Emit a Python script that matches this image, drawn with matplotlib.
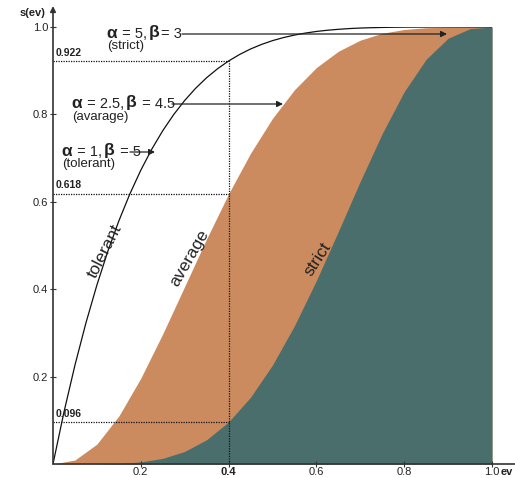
import matplotlib
matplotlib.use("Agg")
import matplotlib.pyplot as plt
from matplotlib.offsetbox import TextArea, HPacker, AnnotationBbox
from matplotlib.patches import FancyArrowPatch

plt.rcParams['font.family'] = ['Liberation Sans', 'DejaVu Sans']

# ---- data ----
ev = [0.00, 0.05, 0.10, 0.15, 0.20, 0.25, 0.30, 0.35, 0.40, 0.45, 0.50,
      0.55, 0.60, 0.65, 0.70, 0.75, 0.80, 0.85, 0.90, 0.95, 1.00]
average = [0.0, 0.0092, 0.0455, 0.1098, 0.1964, 0.2979, 0.4065, 0.5153, 0.6183,
           0.7112, 0.7910, 0.8564, 0.9073, 0.9445, 0.9699, 0.9857, 0.9943,
           0.9983, 0.9997, 1.0, 1.0]
strict = [0.0, 0.0000, 0.0002, 0.0012, 0.0047, 0.0129, 0.0288, 0.0556, 0.0963,
          0.1529, 0.2266, 0.3164, 0.4199, 0.5323, 0.6471, 0.7564, 0.8520,
          0.9262, 0.9743, 0.9962, 1.0]
ev_tol = [0.000, 0.025, 0.050, 0.075, 0.100, 0.125, 0.150, 0.175, 0.200, 0.225,
          0.250, 0.275, 0.300, 0.325, 0.350, 0.375, 0.400, 0.425, 0.450, 0.475,
          0.500, 0.525, 0.550, 0.575, 0.600, 0.625, 0.650, 0.675, 0.700, 0.725,
          0.750, 0.775, 0.800, 0.825, 0.850, 0.875, 0.900, 0.950, 1.000]
tolerant = [0.0, 0.1189, 0.2262, 0.3228, 0.4095, 0.4871, 0.5563, 0.6178, 0.6723,
            0.7204, 0.7627, 0.7997, 0.8319, 0.8599, 0.8840, 0.9046, 0.9222,
            0.9371, 0.9497, 0.9601, 0.9688, 0.9758, 0.9815, 0.9861, 0.9898,
            0.9926, 0.9947, 0.9964, 0.9976, 0.9984, 0.9990, 0.9994, 0.9997,
            0.9998, 0.9999, 1.0, 1.0, 1.0, 1.0]
xticks = [0.2, 0.4, 0.6, 0.8, 1.0]
xticklabels = ["0.2", "0.4", "0.6", "0.8", "1.0"]
yticks = [0.2, 0.4, 0.6, 0.8, 1.0]
yticklabels = ["0.2", "0.4", "0.6", "0.8", "1.0"]
ev_mark = 0.4
marks = [0.922, 0.618, 0.096]
mark_labels = ["0.922", "0.618", "0.096"]

ORANGE = "#CB8B5E"
TEAL = "#4A6E6C"
DARK = "#222222"

W, H = 515, 478
fig = plt.figure(figsize=(W / 100, H / 100), dpi=100)
ax = fig.add_axes([53 / W, 14 / H, 439 / W, 437 / H])
ax.set_xlim(0, 1)
ax.set_ylim(0, 1)

ax.fill_between(ev, 0, average, color=ORANGE, lw=0)
ax.fill_between(ev, 0, strict, color=TEAL, lw=0)
ax.plot(ev_tol, tolerant, color="#111111", lw=0.9)

# dotted guide lines
ax.plot([ev_mark, ev_mark], [0, marks[0]], color="#111111", lw=0.9, ls=(0, (1, 1)))
for m, lab in zip(marks, mark_labels):
    ax.plot([0, ev_mark], [m, m], color="#111111", lw=0.9, ls=(0, (1, 1)))
    ax.text(0.005, m + 0.008, lab, fontsize=7.5, fontweight="bold", color=DARK,
            ha="left", va="bottom")

# spines / axes lines
for s in ax.spines.values():
    s.set_visible(False)
ax.annotate("", xy=(0, 1.048), xytext=(0, 0), xycoords="axes fraction",
            arrowprops=dict(arrowstyle="-|>", color="#333333", lw=1.2,
                            mutation_scale=8, shrinkA=0, shrinkB=0))
ax.annotate("", xy=(1.075, 0), xytext=(0, 0), xycoords="axes fraction",
            arrowprops=dict(arrowstyle="-|>", color="#333333", lw=1.2,
                            mutation_scale=8, shrinkA=0, shrinkB=0))

ax.set_xticks(xticks)
ax.set_xticklabels(xticklabels)
ax.set_yticks(yticks)
ax.set_yticklabels(yticklabels)
ax.tick_params(direction="inout", length=4, width=0.8, color="#333333",
               labelsize=8, labelcolor=DARK, pad=1.5)
ax.tick_params(axis="x", pad=0.3)
for t in ax.get_xticklabels():
    t.set_fontweight("bold" if t.get_text() == "0.4" else "normal")

fig.text(20 / W, 1 - 13 / H, "s(ev)", fontsize=8, fontweight="bold",
         color=DARK, ha="left", va="center")
fig.text(501 / W, 1 - 472 / H, "ev", fontsize=8, fontweight="bold",
         color=DARK, ha="left", va="center")

# curve labels
ax.text(0.118, 0.487, "tolerant", fontsize=12.5, rotation=63, color=DARK,
        ha="center", va="center", rotation_mode="anchor")
ax.text(0.31, 0.472, "average", fontsize=12.5, rotation=60, color=DARK,
        ha="center", va="center", rotation_mode="anchor")
ax.text(0.604, 0.469, "strict", fontsize=12.5, rotation=57, color=DARK,
        ha="center", va="center", rotation_mode="anchor")


def px(x, y):
    return (x / W, 1 - y / H)


def param_row(a, b, sep1, sep2):
    greek = dict(fontsize=12.5, fontweight="bold", color=DARK)
    norm = dict(fontsize=10.5, color=DARK)
    return HPacker(children=[TextArea("α", textprops=greek),
                             TextArea(sep1 + a + ",", textprops=norm),
                             TextArea("β", textprops=greek),
                             TextArea(sep2 + b, textprops=norm)],
                   align="baseline", pad=0, sep=1)


params = [("5", "3", "(strict)", 106, 33, " = ", "= "),
          ("2.5", "4.5", "(avarage)", 71, 103, " = ", " = "),
          ("1", "5", "(tolerant)", 61, 151, " = ", " = ")]
for (a, b, sub, left, cy, s1, s2) in params:
    ab = AnnotationBbox(param_row(a, b, s1, s2), px(left, cy),
                        xycoords="figure fraction", box_alignment=(0, 0.5),
                        frameon=False, pad=0)
    fig.add_artist(ab)
    fig.text(*px(left + 1, cy + 13.5), sub, fontsize=9.5, color=DARK,
             ha="left", va="center")

arrows = [((182, 34), (447, 34)), ((172, 104), (283, 104)), ((130, 152), (155, 152))]
for (x0, y0), (x1, y1) in arrows:
    fig.add_artist(FancyArrowPatch(
        px(x0, y0), px(x1, y1), transform=fig.transFigure,
        arrowstyle="-|>", mutation_scale=9, color="#222222", lw=0.9,
        shrinkA=0, shrinkB=0))

fig.savefig("out.png", dpi=100)
